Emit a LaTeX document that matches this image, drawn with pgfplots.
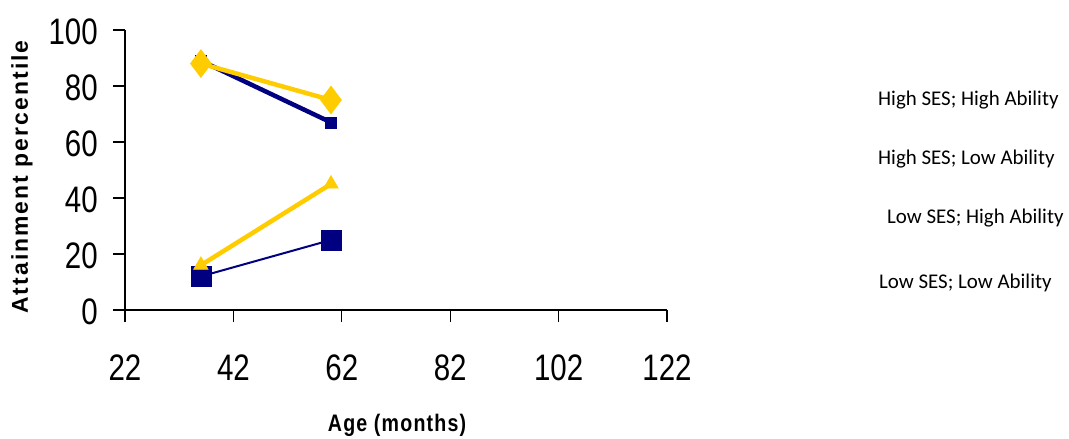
\documentclass[border=0pt]{standalone}
\usepackage{pgfplots}
\pgfplotsset{compat=1.18}
\usepackage{fontspec}
\setmainfont{Liberation Sans}
\newfontfamily\narrowfont[FakeStretch=0.80]{Liberation Sans}
\newfontfamily\ylabfont[LetterSpace=9]{Liberation Sans}
\newfontfamily\xlabfont[FakeStretch=0.82,LetterSpace=5]{Liberation Sans}
\newfontfamily\legfont{Carlito}
\definecolor{navy}{HTML}{000080}
\definecolor{gold}{HTML}{FFCC00}
\begin{document}
\begin{tikzpicture}[x=1bp,y=1bp]
\useasboundingbox (0,0) rectangle (1069,439);
\begin{axis}[
  scale only axis,
  width=542bp, height=280bp,
  at={(125bp,129bp)}, anchor=south west,
  xmin=22, xmax=122, ymin=0, ymax=100,
  xtick={22,42,62,82,102,122},
  ytick={0,20,40,60,80,100},
  axis x line*=bottom, axis y line*=left,
  tick align=outside,
  major tick length=12bp,
  axis line style={line width=1.3bp, black},
  tick style={line width=1.3bp, black},
  /pgf/number format/assume math mode=true,
  ticklabel style={font=\narrowfont\fontsize{37}{37}\selectfont, inner sep=0pt},
  xticklabel style={anchor=base, yshift=-59bp},
  yticklabel style={anchor=east, xshift=-15bp, yshift=-1.5bp},
  xlabel={\xlabfont\bfseries\fontsize{24}{24}\selectfont Age (months)},
  ylabel={\ylabfont\bfseries\fontsize{23}{23}\selectfont Attainment percentile},
  xlabel style={at={(rel axis cs:0.502,-0.412)}, anchor=center, inner sep=0pt},
  ylabel style={at={(rel axis cs:-0.190,0.475)}, anchor=center, rotate=0, inner sep=0pt},
  clip=false,
]
\addplot[navy, line width=4.5bp, mark=square*, mark size=5.5bp, mark options={solid, line width=0.5bp}] coordinates {(36,89) (60,67)};
\addplot[navy, line width=2bp, mark=square*, mark size=10bp, mark options={solid, line width=0.5bp}] coordinates {(36,12) (60,25)};
\addplot[gold, line width=4.5bp, mark=triangle*, mark size=8.5bp, mark options={solid, line width=0.5bp}] coordinates {(36,16) (60,45)};
\addplot[gold, line width=4.5bp, mark=diamond*, mark size=14bp, mark options={solid, line width=0.5bp}] coordinates {(36,88) (60,75)};
\end{axis}
\begin{scope}[every node/.style={anchor=west, inner sep=0pt, font=\legfont\fontsize{21}{21}\selectfont}]
\node at (878,339) {High SES; High Ability};
\node at (878,280) {High SES; Low Ability};
\node at (887,220.6) {Low SES; High Ability};
\node at (879,156.5) {Low SES; Low Ability};
\end{scope}
\end{tikzpicture}
\end{document}
